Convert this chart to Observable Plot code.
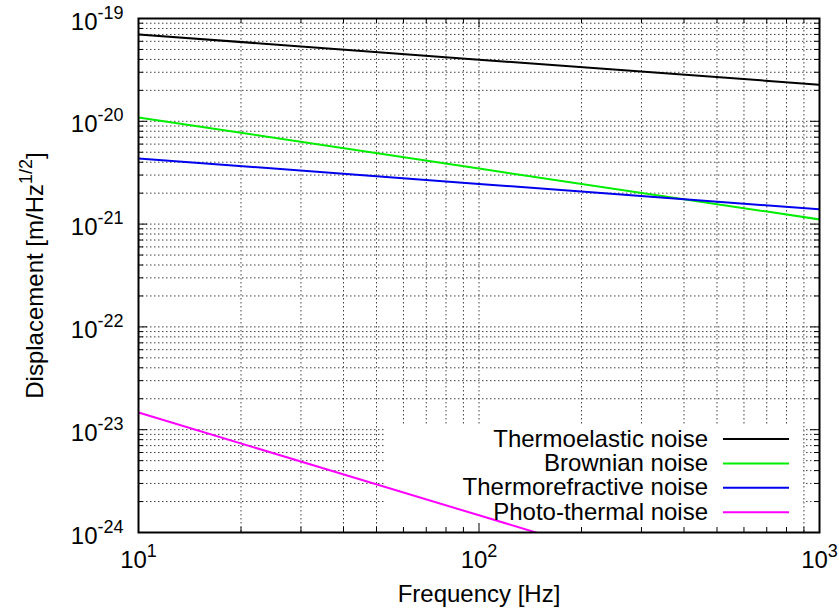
<!DOCTYPE html>
<html>
<head>
<meta charset="utf-8">
<script src="https://cdn.jsdelivr.net/npm/d3@7"></script>
<script src="https://cdn.jsdelivr.net/npm/@observablehq/plot@0.6"></script>
<style>
  html, body { margin: 0; padding: 0; background: white; }
</style>
</head>
<body>
<div id="chart"></div>
<script>
// ---- data ----
const freq = [10, 100, 1000];
const thermoelastic = [7.0e-20, 3.98e-20, 2.27e-20];
const brownian = [1.09e-20, 3.47e-21, 1.11e-21];
const thermorefractive = [4.35e-21, 2.46e-21, 1.39e-21];
const photothermal = [1.47e-23, 1.47e-24, 1.47e-25];
const seriesNames = ["Thermoelastic noise", "Brownian noise", "Thermorefractive noise", "Photo-thermal noise"];
const seriesValues = [thermoelastic, brownian, thermorefractive, photothermal];
const seriesColors = ["#000000", "#00ee00", "#0000ee", "#ff00ff"];

const xMajor = [10, 100, 1000];
const xMinor = [20, 30, 40, 50, 60, 70, 80, 90, 200, 300, 400, 500, 600, 700, 800, 900];
const yMajor = [1e-24, 1e-23, 1e-22, 1e-21, 1e-20, 1e-19];
const yMinor = [];
for (let e = -24; e < -19; e++) for (let m = 2; m <= 9; m++) yMinor.push(m * Math.pow(10, e));

const xTitle = "Frequency [Hz]";
const yTitle = "Displacement [m/Hz^1/2^]";

// ---- layout ----
const W = 839, H = 612, ML = 138, MR = 20, MT = 18, MB = 80;
const IW = W - ML - MR, IH = H - MT - MB;
const FONT = "'Liberation Sans', Arial, Helvetica, sans-serif";
const gridStyle = {stroke: "#000", strokeOpacity: 0.75, strokeWidth: 1, strokeDasharray: "1.5,2.5"};
const expFmt = d => "10^" + Math.round(Math.log10(d));

const legendBox = (index, scales, values, dims) => {
  const right = dims.width - dims.marginRight, bottom = dims.height - dims.marginBottom;
  return d3.create("svg:rect")
    .attr("x", right - 434).attr("y", bottom - 107)
    .attr("width", 418).attr("height", 107)
    .attr("fill", "white").node();
};

const legend = (index, scales, values, dims) => {
  const right = dims.width - dims.marginRight, bottom = dims.height - dims.marginBottom;
  const g = d3.create("svg:g");
  seriesNames.forEach((n, i) => {
    const cy = bottom - 93 + i * 24.4;
    g.append("text").attr("x", right - 111).attr("y", cy + 7.5)
      .attr("text-anchor", "end").attr("font-size", 24).attr("fill", "black")
      .attr("font-family", FONT).text(n);
    g.append("line").attr("x1", right - 96).attr("x2", right - 30)
      .attr("y1", cy).attr("y2", cy)
      .attr("stroke", seriesColors[i]).attr("stroke-width", 2);
  });
  return g.node();
};

const svg = Plot.plot({
  width: W, height: H,
  marginLeft: ML, marginRight: MR, marginTop: MT, marginBottom: MB,
  style: {fontFamily: FONT, fontSize: "24px", background: "white", color: "black"},
  x: {type: "log", domain: [10, 1000], label: null},
  y: {type: "log", domain: [1e-24, 1e-19], label: null},
  marks: [
    Plot.gridX(xMinor, {x: d => d, ...gridStyle}),
    Plot.gridX(xMajor, {x: d => d, ...gridStyle}),
    Plot.gridY(yMinor, {y: d => d, ...gridStyle}),
    Plot.gridY(yMajor, {y: d => d, ...gridStyle}),
    legendBox,
    ...seriesValues.map((vals, k) =>
      Plot.line(freq, {x: d => d, y: (d, i) => vals[i], stroke: seriesColors[k], strokeWidth: 2, clip: true})),
    // inward ticks on all four sides
    Plot.tickX(xMajor, {x: d => d, insetTop: IH - 9, stroke: "black"}),
    Plot.tickX(xMajor, {x: d => d, insetBottom: IH - 9, stroke: "black"}),
    Plot.tickX(xMinor, {x: d => d, insetTop: IH - 5, stroke: "black"}),
    Plot.tickX(xMinor, {x: d => d, insetBottom: IH - 5, stroke: "black"}),
    Plot.tickY(yMajor, {y: d => d, insetRight: IW - 9, stroke: "black"}),
    Plot.tickY(yMajor, {y: d => d, insetLeft: IW - 9, stroke: "black"}),
    Plot.tickY(yMinor, {y: d => d, insetRight: IW - 5, stroke: "black"}),
    Plot.tickY(yMinor, {y: d => d, insetLeft: IW - 5, stroke: "black"}),
    Plot.frame({stroke: "black", strokeWidth: 2}),
    Plot.axisX(xMajor, {tickSize: 0, tickPadding: 18, fontSize: 24, tickFormat: expFmt, label: null}),
    Plot.axisY(yMajor, {tickSize: 0, tickPadding: 15, fontSize: 24, dy: 3.5, tickFormat: expFmt, label: null}),
    Plot.text([xTitle], {frameAnchor: "bottom", dy: 62, fontSize: 24, text: d => d, fill: "black",
      textAnchor: "middle", lineAnchor: "middle"}),
    Plot.text([yTitle], {frameAnchor: "left", dx: -103, rotate: -90, fontSize: 24, text: d => d, fill: "black",
      textAnchor: "middle", lineAnchor: "middle"}),
    legend
  ]
});

// superscripts
const NS = "http://www.w3.org/2000/svg";
svg.querySelectorAll("text").forEach(t => {
  if (t.children.length || !t.textContent.includes("^")) return;
  const parts = t.textContent.split("^");
  t.textContent = "";
  parts.forEach((p, i) => {
    if (i > 0 && i % 2 === 0 && p === "") return;
    const ts = document.createElementNS(NS, "tspan");
    ts.textContent = p;
    if (i % 2 === 1) { ts.setAttribute("dy", "-11"); ts.setAttribute("font-size", "18"); }
    else if (i > 0) ts.setAttribute("dy", "11");
    t.appendChild(ts);
  });
});

document.getElementById("chart").appendChild(svg);
</script>
</body>
</html>
